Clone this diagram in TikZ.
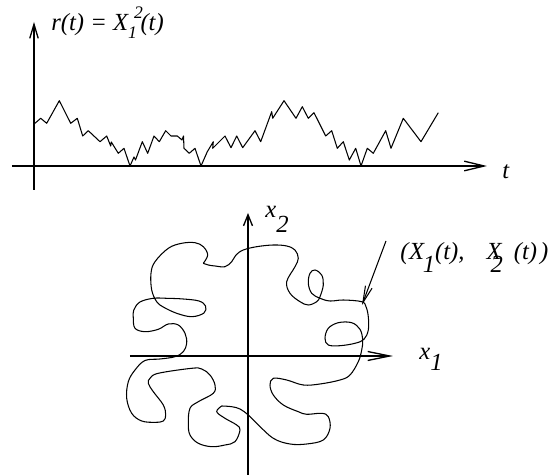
\documentclass[tikz,border=0pt]{standalone}
\usepackage{fontspec}
\setmainfont{Liberation Serif}
\usepackage{tikz}
\usetikzlibrary{arrows.meta,positioning}
\tikzset{
  axis/.style={line width=0.75pt},
  walk/.style={line width=0.6pt, line join=round},
  lbl/.style={font=\fontsize{14}{16}\selectfont\itshape, inner sep=0pt}
}
\newcommand{\lowdig}[2]{\raisebox{#1}{#2}}
\begin{document}
\begin{tikzpicture}[x=0.02cm, y=-0.02cm]
  \useasboundingbox (0,0) rectangle (549,476);
  % Path of r(t)
  \coordinate (rtop) at (34,22);
  \coordinate (rbot) at (34,190);
  \coordinate (tleft) at (12,166);
  \coordinate (tright) at (487,166);
  \draw[axis, -{Straight Barb[length=8pt,width=4.8pt]}] (rbot) -- (rtop);
  \draw[axis, -{Straight Barb[length=11.4pt,width=5.5pt]}] (tleft) -- (tright);
  \node[lbl, anchor=base west] (rlabel) at (51,31)
    {r(t) = X\rlap{\kern0.25em\lowdig{0.5em}{\fontsize{10}{10}\selectfont 2}}\lowdig{-0.3em}{\fontsize{10}{10}\selectfont 1}\kern0.15em(t)};
  \node[lbl, anchor=base west] (tlabel) at (502,179) {t};
  \draw[walk] (35,123.3) -- (40.7,118.3) -- (46.7,123.3) -- (59.3,100.7) -- (70.7,123.3)
    -- (77.3,118.3) -- (82.7,136) -- (88.3,130.7) -- (100,141.7) -- (106.7,136)
    -- (110.7,146) -- (111.3,142) -- (118.3,153.3) -- (124,148.3) -- (130,166)
    -- (134,157) -- (135.5,160) -- (142.3,141.7) -- (147.7,153.3) -- (154,136)
    -- (159.3,141.7) -- (165.7,130.7) -- (171,136) -- (177.3,136) -- (182,140)
    -- (183.5,136) -- (184,148.3) -- (189.3,153.3) -- (195,148.3) -- (201,166)
    -- (207.3,151.7) -- (213.3,141.7) -- (212.7,148.3) -- (225,136) -- (231,147.7)
    -- (236.7,136) -- (242.7,147.7) -- (255,130.7) -- (260.7,141.7) -- (271.7,111.7)
    -- (272.7,118.3) -- (284,100.7) -- (296,118.3) -- (302.3,106.7) -- (308.3,118.3)
    -- (314,112.7) -- (325.7,136) -- (331.7,130.7) -- (337.3,148.3) -- (343.3,141.7)
    -- (349.3,160) -- (355.7,148.3) -- (361,166) -- (367.3,148.3) -- (373.3,153.3)
    -- (385.7,130.7) -- (391,148.3) -- (403.3,118.3) -- (421,141.7) -- (438.3,112.7);

  % Path of (X1, X2) in the plane
  \coordinate (xtop) at (248,213);
  \coordinate (xbot) at (248,475);
  \coordinate (yleft) at (130,356);
  \coordinate (yright) at (393,356);
  \draw[axis, -{Straight Barb[length=6.3pt,width=5.1pt]}] (xbot) -- (xtop);
  \draw[axis, -{Straight Barb[length=12.5pt,width=5.1pt]}] (yleft) -- (yright);
  \node[lbl, anchor=base west] (xtwo) at (265,218) {x\lowdig{-0.58em}{2}};
  \node[lbl, anchor=base west] (xone) at (419,360) {x\lowdig{-0.42em}{1}};
  \coordinate (cuspA) at (203.3,263.3);
  \coordinate (cuspB) at (221.7,406);
  \draw[walk] plot[smooth, tension=0.6] coordinates {
    (cuspA) (207.7,255) (203.3,246.7) (195,242.7) (181.7,243.3) (168.3,248.3)
    (155,261.7) (151,273.3) (151.7,290) (156.7,301.7) (163.3,307) (176.7,313.3)
    (191.7,316.7) (204,313) (205.5,306) (199,301) (183.3,299) (166.7,298.3)
    (153.3,298.3) (140,302) (133.8,310) (133.3,318) (135,328.3) (145,331.7)
    (158.3,329.3) (168.3,324) (178.3,325) (185,333.3) (186.7,343.3) (183.3,351.7)
    (175,356.7) (160,359) (145,360.5) (135,370) (128.3,381.7) (126.7,398.3)
    (131.7,413.3) (141.7,421) (155,422.3) (163.3,421) (165.7,415) (163.3,405)
    (153.3,391.7) (148.3,383.3) (150,378.3) (158.3,373.3) (191.7,368.3)
    (201.7,369) (210,375) (215,385) (213.3,393.3) (198.3,401.7) (190,408.3)
    (188.3,423.3) (190,435) (198.3,443.3) (211.7,446.7) (225,445) (235,441.7)
    (240,430) (236.7,425) (225,418.3) (216.7,411.7) (cuspB)}
    plot[smooth, tension=0.6] coordinates {
    (cuspB) (231.7,406.7) (240,409) (248.3,415) (256.7,423.3) (273.3,438.3)
    (290,444) (306.7,444) (323.3,440) (330,428.3) (328.3,416.7) (321.7,413.3)
    (306.7,414.3) (298.3,411.7) (283.3,405) (273.3,395) (270,385) (273.3,378.3)
    (286.7,380) (303.3,385) (320,384) (340,380) (350,375) (358.3,361.7)
    (361.7,350) (362.7,340) (360,329.3) (351.7,322.7) (338.3,322.7) (328.3,328.3)
    (325,338.3) (328.3,345) (340,345.7) (355,343.3) (364,339.3) (368.3,330)
    (368.3,316.7) (366,306.7) (361.7,301.7) (343.3,300) (330,301) (320,298.3)
    (311.7,293.3) (308.3,283.3) (310,273.3) (315,270) (321.7,275) (323.3,285)
    (320,296.7) (316.7,301.7) (308.3,305) (300,301.7) (290,293.3) (286.7,281.7)
    (295,266.7) (298.3,258.3) (295,250) (286.7,246) (273.3,245) (256.7,246.7)
    (243.3,250) (236,255) (231.7,261.7) (225,266.7) (215,266) (208.3,265) (cuspA)};
  % Label and pointer
  \node[lbl, anchor=base west] (pos) at (400,260)
    {(\kern0.02em X\kern-0.05em\lowdig{-0.5em}{1}(t),\hspace{0.9em}X\kern-0.45em\lowdig{-0.5em}{2}\hspace{0.45em}(t)\hspace{0.12em})};
  \coordinate (ptail) at (386,241);
  \coordinate (ptip) at (362,305);
  \draw[line width=0.6pt, -{Straight Barb[length=9.5pt,width=4pt]}] (ptail) -- (ptip);
\end{tikzpicture}
\end{document}
